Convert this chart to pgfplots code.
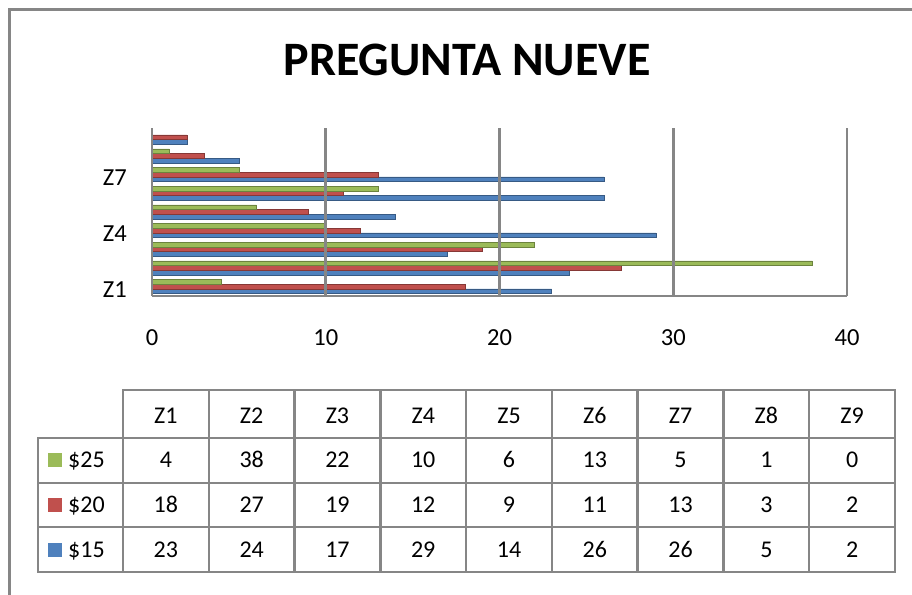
\documentclass[border=0pt]{standalone}
\usepackage{fontspec}
\setmainfont{Carlito}
\usepackage{pgfplots}
\usepackage{pgfplotstable}
\pgfplotsset{compat=1.18}

\definecolor{serieA}{HTML}{4F81BD}
\definecolor{serieB}{HTML}{C0504D}
\definecolor{serieC}{HTML}{9BBB59}
\definecolor{linea}{HTML}{868686}

% respuestas por zona y precio
\pgfplotstableread{
idx zona p15 p20 p25
1 Z1 23 18 4
2 Z2 24 27 38
3 Z3 17 19 22
4 Z4 29 12 10
5 Z5 14 9 6
6 Z6 26 11 13
7 Z7 26 13 5
8 Z8 5 3 1
9 Z9 2 2 0
}\datos

\begin{document}
\begin{tikzpicture}[x=1pt,y=1pt]
\useasboundingbox (0,0) rectangle (912,594);
\fill[white] (0,0) rectangle (912,594);
% marco del gráfico
\draw[linea, line width=2.6pt] (9.5,-5) -- (9.5,584.5) -- (917,584.5);
% título
\node[font=\bfseries\fontsize{48}{58}\selectfont] at (467,534) {PREGUNTA NUEVE};

\begin{axis}[
  at={(152pt,298pt)}, anchor=south west,
  scale only axis, width=695pt, height=168pt,
  xmin=0, xmax=40, ymin=0.5, ymax=9.5,
  xtick={0,10,20,30,40},
  ytick={1,4,7}, yticklabels={Z1,Z4,Z7},
  axis x line*=bottom, axis y line*=left,
  axis line style={linea, line width=2.6pt},
  xmajorgrids, grid style={linea, line width=2.6pt},
  major tick length=0pt, tick style={draw=none},
  /pgf/number format/assume math mode=true,
  xticklabel style={font=\fontsize{24.5}{28}\selectfont, anchor=center, yshift=-42pt},
  yticklabel style={font=\fontsize{24.5}{28}\selectfont, anchor=east, inner sep=0pt, xshift=-25pt, yshift=-3pt},
  bar width=0.25,
  axis on top,
]
\addplot[xbar, bar shift=-0.25, fill=serieA, draw=serieA!70!black, line width=0.5pt] table[x=p15, y=idx] {\datos};
\addplot[xbar, bar shift=0, fill=serieB, draw=serieB!70!black, line width=0.5pt] table[x=p20, y=idx] {\datos};
\addplot[xbar, bar shift=0.25, fill=serieC, draw=serieC!70!black, line width=0.5pt] table[x=p25, y=idx] {\datos};
\end{axis}

% tabla de datos
\begin{scope}[linea, line width=2.4pt, line cap=rect]
  \draw (123,204) -- (895,204);
  \foreach \yy in {156,111,67,22} \draw (38,\yy) -- (895,\yy);
  \draw (38,156) -- (38,22);
  \foreach \k in {0,...,9} \draw ({123+85.78*\k},204) -- ({123+85.78*\k},22);
\end{scope}
\begin{scope}[font=\fontsize{24}{28}\selectfont, every node/.style={anchor=base, inner sep=0pt}]
  \foreach \k in {0,...,8} {
    \pgfplotstablegetelem{\k}{zona}\of\datos
    \node at ({123+85.78*(\k+0.5)},170.5) {\pgfplotsretval};
    \pgfplotstablegetelem{\k}{p25}\of\datos
    \node at ({123+85.78*(\k+0.5)},126) {\pgfplotsretval};
    \pgfplotstablegetelem{\k}{p20}\of\datos
    \node at ({123+85.78*(\k+0.5)},81.5) {\pgfplotsretval};
    \pgfplotstablegetelem{\k}{p15}\of\datos
    \node at ({123+85.78*(\k+0.5)},37) {\pgfplotsretval};
  }
  \fill[serieC] (48,126.5) rectangle (62,140.5);
  \fill[serieB] (48,82) rectangle (62,96);
  \fill[serieA] (48,37.5) rectangle (62,51.5);
  \node[anchor=base west] at (68,126) {\$25};
  \node[anchor=base west] at (68,81.5) {\$20};
  \node[anchor=base west] at (68,37) {\$15};
\end{scope}
\end{tikzpicture}
\end{document}
